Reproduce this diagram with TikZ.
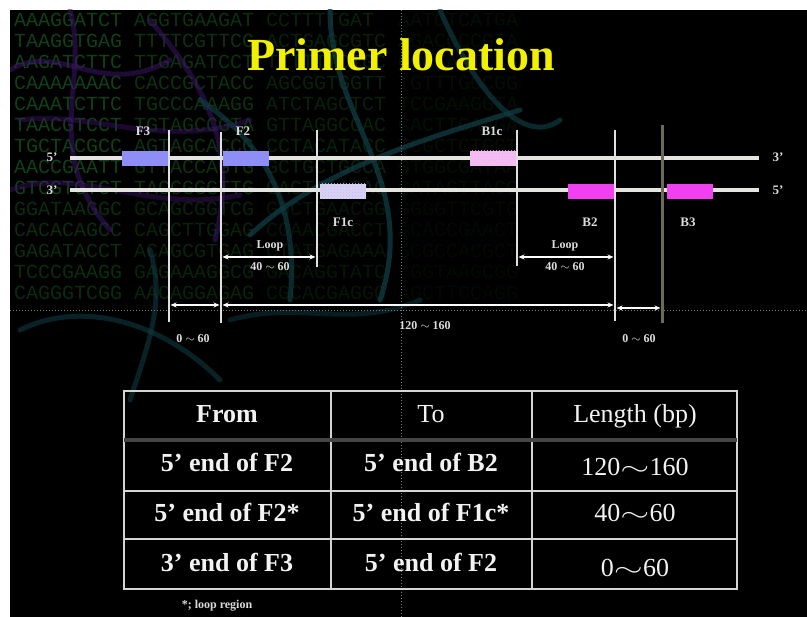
\documentclass[tikz,border=0pt]{standalone}
\usepackage{fontspec}
\setmainfont{Liberation Serif}
\newfontfamily\monofnt{Liberation Mono}
\usetikzlibrary{arrows.meta,patterns}
\definecolor{strandc}{HTML}{E4E4E0}
\definecolor{labc}{HTML}{DCDCDC}
\definecolor{f3c}{HTML}{8E8EF6}
\definecolor{f1cc}{HTML}{DCD2F2}
\definecolor{b1cc}{HTML}{F2C0F0}
\definecolor{b2c}{HTML}{F040F0}
\definecolor{vlc}{HTML}{E0E0E0}
\definecolor{olivec}{HTML}{6E6A58}
\definecolor{titlec}{HTML}{F0F000}
\definecolor{dnac}{HTML}{1A6E28}
\definecolor{purpc}{HTML}{3A1664}
\definecolor{tealc}{HTML}{103A40}
\definecolor{gridc}{HTML}{7A7A7A}
\definecolor{tabc}{HTML}{D4D4D4}
\definecolor{tabtext}{HTML}{F2F2F2}
\colorlet{dA1}{dnac!58!black}\colorlet{dA2}{dnac!45!black}\colorlet{dA3}{dnac!30!black}\colorlet{dA4}{dnac!13!black}
\colorlet{dB1}{dnac!40!black}\colorlet{dB2}{dnac!32!black}\colorlet{dB3}{dnac!20!black}\colorlet{dB4}{dnac!8!black}
\newcommand{\wv}{\scalebox{1.5}[1]{$\sim$}}
\newcommand{\dnarow}[6]{%
  \node[dna,text=d#21] (dna-#1-a) at (14,#1) {#3};
  \node[dna,text=d#22] (dna-#1-b) at (134,#1) {#4};
  \node[dna,text=d#23] (dna-#1-c) at (266,#1) {#5};
  \node[dna,text=d#24] (dna-#1-d) at (398,#1) {#6};}
\begin{document}
\begin{tikzpicture}[x=1pt,y=-1pt,
  strand/.style={draw=strandc,line width=4pt},
  primer/.style={rectangle,minimum width=46pt,minimum height=15pt,inner sep=0pt,draw=none},
  vline/.style={draw=vlc,line width=2pt},
  lab/.style={text=labc,inner sep=0pt,text height=9pt,text depth=0pt,font=\bfseries\fontsize{13}{14}\selectfont},
  dimlab/.style={text=labc,inner sep=0pt,text height=8pt,text depth=0pt,font=\bfseries\fontsize{12}{13}\selectfont},
  dimarrow/.style={draw=white,line width=1.8pt,{Stealth[length=6pt,width=5pt]}-{Stealth[length=6pt,width=5pt]}},
  dna/.style={anchor=west,inner sep=0pt,font=\monofnt\fontsize{20}{20}\selectfont},
  bgstrand/.style={line width=5pt,line cap=round},
  cell/.style={text=tabtext,inner sep=0pt,text height=18pt,text depth=0pt,font=\fontsize{26}{28}\selectfont},
  bcell/.style={cell,font=\bfseries\fontsize{26}{28}\selectfont}]
\useasboundingbox (0,0) rectangle (807,617);
\fill[white] (0,0) rectangle (807,617);
\fill[black] (10,10) rectangle (807,617);
% background texture
\begin{scope}
\clip (10,10) rectangle (807,617);
\dnarow{20}{A}{AAAGGATCT}{AGGTGAAGAT}{CCTTTTGAT}{AATCTCATGA}
\dnarow{41}{A}{TAAGGTGAG}{TTTTCGTTCC}{ACTGAGCGTC}{AGACCCCGTA}
\dnarow{62}{A}{AAGATCTTC}{TTGAGATCCT}{TTTTTTCTGC}{GCGTAATCTG}
\dnarow{83}{A}{CAAAAAAAC}{CACCGCTACC}{AGCGGTGGTT}{TGTTTGCCGG}
\dnarow{104}{A}{CAAATCTTC}{TGCCCAAAGG}{ATCTAGCTCT}{TCCGAAGGTA}
\dnarow{125}{A}{TAACGTCCT}{TGTAGCCGTA}{GTTAGGCCAC}{CACTTCAAGA}
\dnarow{146}{A}{TGCTACGCC}{AGTAGCACCG}{CCTACATACC}{TCGCTCTGCT}
\dnarow{167}{A}{AACCGAATT}{GTTACCAGTG}{GCTGCTGCCA}{GTGGCGATAA}
\dnarow{188}{A}{GTCGTGTCT}{TACCGGGTTG}{GACTCAAGAC}{GATAGTTACC}
\dnarow{209}{B}{GGATAAGGC}{GCAGCGGTCG}{GGCTGAACGG}{GGGGTTCGTG}
\dnarow{230}{B}{CACACAGCC}{CAGCTTGGAG}{CGAACGACCT}{ACACCGAACT}
\dnarow{251}{B}{GAGATACCT}{ACAGCGTGAG}{CTATGAGAAA}{GCGCCACGCT}
\dnarow{272}{B}{TCCCGAAGG}{GAGAAAGGCG}{GACAGGTATC}{CGGTAAGCGG}
\dnarow{293}{B}{CAGGGTCGG}{AACAGGAGAG}{CGCACGAGGG}{AGCTTCCAGG}
\draw[bgstrand,purpc,opacity=.55] (10,70) .. controls (60,40) and (100,100) .. (170,60);
\draw[bgstrand,purpc,opacity=.55] (70,10) .. controls (90,80) and (40,150) .. (110,230);
\draw[bgstrand,purpc,opacity=.55] (150,20) .. controls (200,80) and (240,140) .. (215,240);
\draw[bgstrand,purpc,opacity=.45] (10,190) .. controls (80,165) and (150,215) .. (240,195);
\draw[bgstrand,purpc,opacity=.45] (20,120) .. controls (90,110) and (160,150) .. (250,120);
\draw[bgstrand,tealc,opacity=.8] (330,10) .. controls (330,120) and (420,180) .. (380,300);
\draw[bgstrand,tealc,opacity=.8] (250,235) .. controls (320,170) and (420,140) .. (520,110);
\draw[bgstrand,tealc,opacity=.7] (440,10) .. controls (470,80) and (520,150) .. (560,120);
\draw[bgstrand,tealc,opacity=.7] (200,100) .. controls (260,140) and (300,200) .. (290,300);
\draw[bgstrand,tealc,opacity=.6] (20,330) .. controls (80,300) and (160,320) .. (220,380);
\draw[bgstrand,tealc,opacity=.6] (150,250) .. controls (165,300) and (150,340) .. (130,400);
\draw[bgstrand,tealc,opacity=.5] (230,320) .. controls (300,300) and (350,330) .. (420,300);
\end{scope}
% guide lines
\draw[gridc,line width=1pt,dotted] (401,10) -- (401,617);
\draw[gridc,line width=1pt,dotted] (10,311) -- (807,311);
% title
\node[text=titlec,inner sep=0pt,font=\bfseries\fontsize{46}{50}\selectfont] (title) at (401,55) {Primer location};
% strands
\node[lab] (e5L) at (52,157) {5’};
\node[lab] (e3L) at (52,190) {3’};
\node[lab] (e3R) at (778,157) {3’};
\node[lab] (e5R) at (778,190) {5’};
\coordinate (s1a) at (70,158);
\coordinate (s1b) at (759,158);
\coordinate (s2a) at (70,190);
\coordinate (s2b) at (759,190);
\draw[strand] (s1a) -- (s1b);
\draw[strand] (s2a) -- (s2b);
% primers
\node[primer,fill=f3c] (F3box) at (145,158.5) {};
\node[primer,fill=f3c] (F2box) at (245.5,158.5) {};
\node[primer,fill=b1cc] (B1cbox) at (493,158.5) {};
\node[primer,pattern=crosshatch dots,pattern color=b2c!45] (B1cdots) at (493,158.5) {};
\node[primer,fill=f1cc] (F1cbox) at (343,191.5) {};
\node[primer,pattern=crosshatch dots,pattern color=f3c!60] (F1cdots) at (343,191.5) {};
\node[primer,fill=b2c] (B2box) at (591,191.5) {};
\node[primer,fill=b2c] (B3box) at (690,191.5) {};
% primer labels
\node[lab] (lF3) at (143,131) {F3};
\node[lab] (lF2) at (243,131) {F2};
\node[lab] (lB1c) at (492,131) {B1c};
\node[lab] (lF1c) at (343,222) {F1c};
\node[lab] (lB2) at (590,222) {B2};
\node[lab] (lB3) at (688,222) {B3};
% vertical lines
\coordinate (v1t) at (169,130); \coordinate (v1b) at (169,322);
\coordinate (v2t) at (221,132); \coordinate (v2b) at (221,323);
\coordinate (v3t) at (317,130); \coordinate (v3b) at (317,267);
\coordinate (v4t) at (517,130); \coordinate (v4b) at (517,266);
\coordinate (v5t) at (615,130); \coordinate (v5b) at (615,321);
\coordinate (v6t) at (662,125); \coordinate (v6b) at (662,323);
\draw[vline] (v1t) -- (v1b);
\draw[vline] (v2t) -- (v2b);
\draw[vline] (v3t) -- (v3b);
\draw[vline] (v4t) -- (v4b);
\draw[vline] (v5t) -- (v5b);
\draw[draw=olivec,line width=3pt] (v6t) -- (v6b);
% dimension arrows
\coordinate (aL1) at (222.5,257); \coordinate (aL2) at (315.5,257);
\coordinate (aR1) at (518.5,257); \coordinate (aR2) at (613.5,257);
\coordinate (b1a) at (170.5,305); \coordinate (b1b) at (219.5,305);
\coordinate (b2a) at (222.5,305); \coordinate (b2b) at (613.5,305);
\coordinate (b3a) at (616.5,308); \coordinate (b3b) at (660.5,308);
\draw[dimarrow] (aL1) -- (aL2);
\draw[dimarrow] (aR1) -- (aR2);
\draw[dimarrow] (b1a) -- (b1b);
\draw[dimarrow] (b2a) -- (b2b);
\draw[dimarrow] (b3a) -- (b3b);
\node[dimlab] (loopL) at (270,245) {Loop};
\node[dimlab] (rngL) at (270,267) {40 $\sim$ 60};
\node[dimlab] (loopR) at (565,245) {Loop};
\node[dimlab] (rngR) at (565,267) {40 $\sim$ 60};
\node[dimlab] (r1) at (193,339) {0 $\sim$ 60};
\node[dimlab] (r2) at (425,326) {120 $\sim$ 160};
\node[dimlab] (r3) at (639,339) {0 $\sim$ 60};
% table
\draw[tabc,line width=2.5pt] (124,391) rectangle (737,589);
\draw[tabc,line width=2pt] (331,391) -- (331,589);
\draw[tabc,line width=2pt] (532,391) -- (532,589);
\draw[gridc!140,line width=4pt] (124,440) -- (737,440);
\draw[tabc,line width=2pt] (124,491) -- (737,491);
\draw[tabc,line width=2pt] (124,539) -- (737,539);
\node[bcell] (h1) at (227,414) {From};
\node[cell] (h2) at (431,414) {To};
\node[cell] (h3) at (635,414) {Length (bp)};
\node[bcell] (c11) at (227,463) {5’ end of F2};
\node[bcell] (c12) at (431,463) {5’ end of B2};
\node[cell] (c13) at (635,467) {120\wv160};
\node[bcell] (c21) at (227,513) {5’ end of F2*};
\node[bcell] (c22) at (431,513) {5’ end of F1c*};
\node[cell] (c23) at (635,513) {40\wv60};
\node[bcell] (c31) at (227,563) {3’ end of F3};
\node[bcell] (c32) at (431,563) {5’ end of F2};
\node[cell] (c33) at (635,568) {0\wv60};
\node[text=labc,inner sep=0pt,font=\bfseries\fontsize{12}{13}\selectfont] (foot) at (217,606) {*; loop region};
\end{tikzpicture}
\end{document}
